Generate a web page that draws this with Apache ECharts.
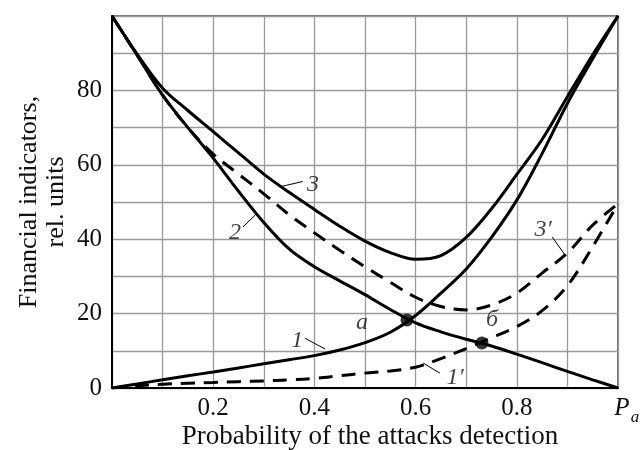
<!DOCTYPE html>
<html><head><meta charset="utf-8">
<script src="https://cdn.jsdelivr.net/npm/echarts@6/dist/echarts.min.js"></script>
<style>html,body{margin:0;padding:0;background:#fff}#c{width:641px;height:450px}</style>
</head><body><div id="c"></div>
<script>
// ---- data ----
const xs = [0,0.05,0.1,0.15,0.2,0.25,0.3,0.35,0.4,0.45,0.5,0.55,0.6,0.65,0.7,0.75,0.8,0.85,0.9,0.95,1];
const curve1  = [0,1.1,2.2,3.3,4.3,5.4,6.5,7.6,8.7,10.2,12.2,15.0,19.5,25.5,32,40.5,50.5,63,76.5,88.5,100];
const curve2  = [100,89.4,78.7,70.0,61.8,52.9,44.5,37.4,32.6,28.8,25.1,21.1,17.5,15.1,13.1,11.3,9.1,6.8,4.45,2.2,0];
const curve3  = [100,89.7,80.6,74.6,68.9,63.2,57.5,52.6,48,43.5,39.5,36.4,34.6,35.6,40.5,48.2,57.4,66.8,78.3,89.6,100];
const curve1p = [0,0.6,1.0,1.3,1.5,1.7,1.9,2.2,2.6,3.3,4.0,4.6,5.6,7.9,10.6,13.5,16.5,20.8,27.5,38,49.5];
const curve3p = [100,89.4,78.7,70.0,62.9,57.5,52.2,46.6,41.7,37.0,32.6,28.4,24.4,21.9,21.0,22.3,25.5,30.9,36.3,43.8,49.5];
const pointX = [0.583, 0.731];
const pointY = [18.3, 12.1];
const xTickLabels = ['0.2','0.4','0.6','0.8'];
const yTickLabels = ['0','20','40','60','80'];
const xTitle = 'Probability of the attacks detection';
const yTitle = ['Financial indicators,', 'rel. units'];
const annoText = ['1','2','3','a','б','1′','3′'];
const annoX = [0.366,0.243,0.397,0.494,0.751,0.678,0.852];
const annoY = [12.6,41.7,54.6,17.5,18.3,2.7,42.5];
const leaders = [
  [[0.381,13.4],[0.421,10.5]],
  [[0.259,43.3],[0.283,46.5]],
  [[0.377,55.5],[0.332,54.1]],
  [[0.615,6.7],[0.648,4.0]],
  [[0.870,40.6],[0.895,35.8]]
];

const FONT = '"Liberation Serif", "Times New Roman", serif';
const chart = echarts.init(document.getElementById('c'), null, {renderer:'canvas'});
const pair = arr => xs.map((x,i)=>[x, arr[i]]);
const solidLine = (name, arr) => ({name, type:'line', data:pair(arr), showSymbol:false, smooth:0.35,
  lineStyle:{color:'#000', width:3}, z:5});
const dashLine = (name, arr) => ({name, type:'line', data:pair(arr), showSymbol:false, smooth:0.35,
  lineStyle:{color:'#000', width:3, type:[14,9]}, z:4});

chart.setOption({
  animation:false,
  backgroundColor:'#fff',
  grid:{left:112, right:23, top:16, bottom:62, show:true, borderColor:'#444', borderWidth:1.5},
  xAxis:{type:'value', min:0, max:1, interval:0.1,
    axisLine:{show:true, onZero:false, lineStyle:{color:'#000', width:2}},
    axisTick:{show:false},
    splitLine:{show:true, lineStyle:{color:'#9a9a9a', width:1.3}},
    axisLabel:{color:'#111', fontFamily:FONT, fontSize:25, margin:8,
      formatter:v=>{const s=(+v).toFixed(1); return xTickLabels.includes(s)?s:'';}}
  },
  yAxis:{type:'value', min:0, max:100, interval:10,
    axisLine:{show:true, onZero:false, lineStyle:{color:'#000', width:2}},
    axisTick:{show:false},
    splitLine:{show:true, lineStyle:{color:'#9a9a9a', width:1.3}},
    axisLabel:{color:'#111', fontFamily:FONT, fontSize:25, margin:10,
      formatter:v=>{const s=String(Math.round(v)); return yTickLabels.includes(s)?s:'';}}
  },
  graphic:[
    {type:'text', x:29, y:202, rotation:Math.PI/2,
      style:{text:yTitle[0], fontFamily:FONT, fontSize:26, fill:'#111', textAlign:'center', textVerticalAlign:'middle'}},
    {type:'text', x:56, y:202, rotation:Math.PI/2,
      style:{text:yTitle[1], fontFamily:FONT, fontSize:26, fill:'#111', textAlign:'center', textVerticalAlign:'middle'}},
    {type:'text', x:370, y:437,
      style:{text:xTitle, fontFamily:FONT, fontSize:27, fill:'#111', textAlign:'center', textVerticalAlign:'middle'}},
    {type:'text', x:622, y:408,
      style:{text:'P', fontFamily:FONT, fontStyle:'italic', fontSize:25, fill:'#111', textAlign:'center', textVerticalAlign:'middle'}},
    {type:'text', x:635, y:418,
      style:{text:'a', fontFamily:FONT, fontStyle:'italic', fontSize:17, fill:'#111', textAlign:'center', textVerticalAlign:'middle'}}
  ],
  series:[
    solidLine('1', curve1),
    solidLine('2', curve2),
    solidLine('3', curve3),
    dashLine("1'", curve1p),
    dashLine("3'", curve3p),
    {name:'points', type:'scatter', data:pointX.map((x,i)=>[x,pointY[i]]), symbolSize:13,
      itemStyle:{color:'#000'}, z:6},
    {name:'leaders', type:'lines', coordinateSystem:'cartesian2d', polyline:false,
      data:leaders.map(c=>({coords:c})), lineStyle:{color:'#000', width:1, opacity:1}, z:6},
    {name:'labels', type:'scatter', symbolSize:0.1, itemStyle:{color:'rgba(0,0,0,0)'},
      data:annoText.map((t,i)=>({name:t, value:[annoX[i], annoY[i]]})),
      label:{show:true, position:'inside', formatter:'{b}', color:'#111', fontFamily:FONT,
        fontStyle:'italic', fontSize:24}, z:7}
  ]
});
</script></body></html>
